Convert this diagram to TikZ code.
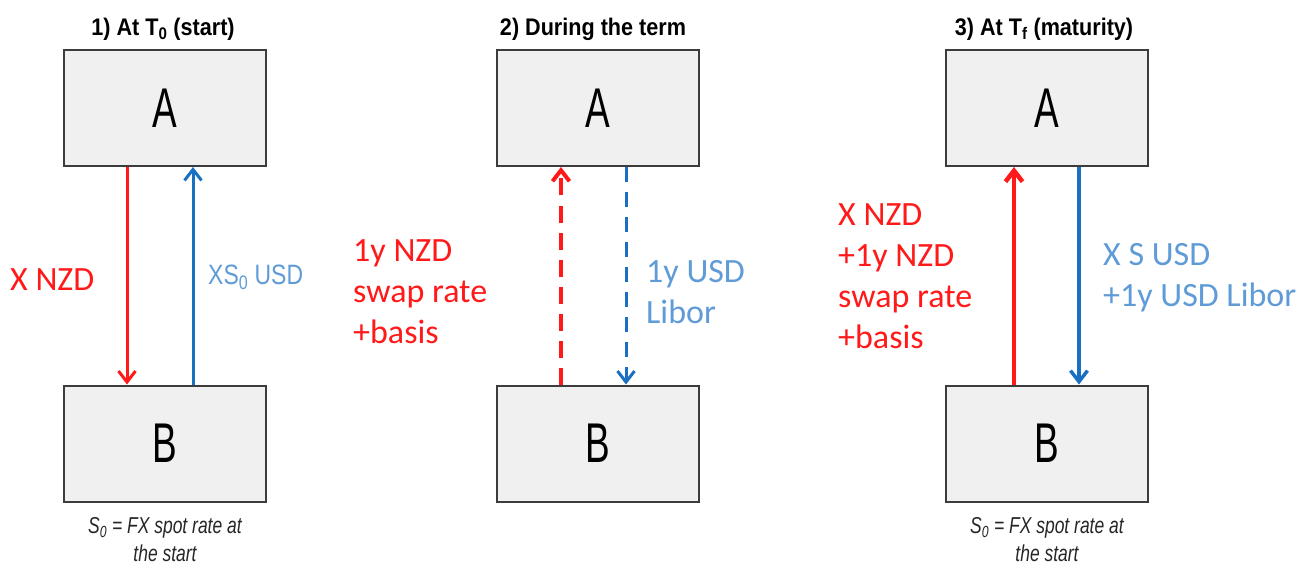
\documentclass[tikz,border=0pt]{standalone}
\usepackage{fontspec}
\usetikzlibrary{arrows.meta}
\setmainfont{Carlito}
\newfontfamily\boxfont[FakeStretch=0.66]{Liberation Sans}
\newfontfamily\titlefont[FakeStretch=0.9]{Liberation Sans}
\newfontfamily\capfont[FakeStretch=0.76]{Liberation Sans}
\newfontfamily\narrowlabel[FakeStretch=0.82]{Liberation Sans}
\definecolor{nzd}{RGB}{255,25,25}
\definecolor{usdline}{RGB}{25,112,195}
\definecolor{usdtext}{RGB}{95,155,215}
\definecolor{boxfill}{RGB}{240,240,240}
\definecolor{boxline}{RGB}{60,60,60}
\begin{document}
\begin{tikzpicture}[x=1pt,y=-1pt,
  party/.style={draw=boxline, fill=boxfill, line width=2pt, minimum width=202pt, minimum height=116pt, inner sep=0pt, font=\boxfont\fontsize{56}{60}\selectfont},
  paneltitle/.style={anchor=base, inner sep=0pt, font=\titlefont\bfseries\fontsize{24}{28}\selectfont},
  caption/.style={align=center, inner sep=0pt, font=\capfont\itshape\fontsize{23}{28}\selectfont, text=black!85},
  flowlabel/.style={anchor=west, align=left, inner sep=0pt, font=\fontsize{34}{41}\selectfont},
  tip/.style={-{Straight Barb[length=11pt,width=17pt]}},
  nzdflow/.style={tip, draw=nzd, line width=3pt},
  usdflow/.style={tip, draw=usdline, line width=3pt},
  dashpat/.style={dash pattern=on 17pt off 10pt}
]
\useasboundingbox (0,0) rectangle (1302,575);

% ---------- Panel 1 ----------
\node[paneltitle] (t1) at (163,36) {1) At T\textsubscript{0} (start)};
\node[party] (A1) at (165,108) {A};
\node[party] (B1) at (165,443.5) {B};
\draw[nzdflow] ([xshift=64pt]A1.south west) -- ([xshift=64pt]B1.north west);
\draw[usdflow] ([xshift=130pt]B1.north west) -- ([xshift=130pt]A1.south west);
\node[flowlabel, text=nzd] (l1a) at (10,280) {X NZD};
\node[flowlabel, text=usdtext, font=\narrowlabel\fontsize{28}{34}\selectfont] (l1b) at (208,277) {XS\textsubscript{0} USD};
\node[caption, anchor=north] (c1) at (B1.south) [yshift=-15pt] {S\textsubscript{0} = FX spot rate at\\the start};

% ---------- Panel 2 ----------
\node[paneltitle] (t2) at (593,36) {2) During the term};
\node[party] (A2) at (598,108) {A};
\node[party] (B2) at (598,443.5) {B};
\draw[nzdflow, line width=4pt, dashpat] ([xshift=65pt]B2.north west) -- ([xshift=65pt]A2.south west);
\draw[usdflow, dash pattern=on 15pt off 10pt] ([xshift=130pt]A2.south west) -- ([xshift=130pt]B2.north west);
\node[flowlabel, text=nzd] (l2a) at (353,292) {1y NZD\\swap rate\\+basis};
\node[flowlabel, text=usdtext] (l2b) at (646,292) {1y USD\\Libor};

% ---------- Panel 3 ----------
\node[paneltitle] (t3) at (1044,36) {3) At T\textsubscript{f} (maturity)};
\node[party] (A3) at (1047,108) {A};
\node[party] (B3) at (1047,443.5) {B};
\draw[nzdflow, line width=4.5pt] ([xshift=69pt]B3.north west) -- ([xshift=69pt]A3.south west);
\draw[usdflow, line width=3.5pt] ([xshift=134pt]A3.south west) -- ([xshift=134pt]B3.north west);
\node[flowlabel, text=nzd] (l3a) at (838,276) {X NZD\\+1y NZD\\swap rate\\+basis};
\node[flowlabel, text=usdtext] (l3b) at (1103,278) {X S USD\\+1y USD Libor};
\node[caption, anchor=north] (c3) at (B3.south) [yshift=-15pt] {S\textsubscript{0} = FX spot rate at\\the start};
\end{tikzpicture}
\end{document}
